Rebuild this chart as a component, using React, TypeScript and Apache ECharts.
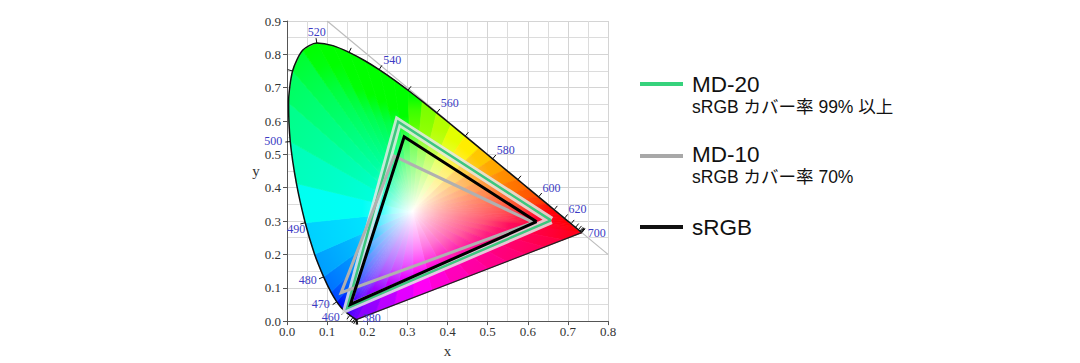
import React, { useEffect, useRef } from 'react';
import * as echarts from 'echarts';

// CIE 1931 spectral locus (wavelength in nm, chromaticity x, y)
const wavelengths = [380,385,390,395,400,405,410,415,420,425,430,435,440,445,450,455,460,465,470,475,480,485,490,495,500,505,510,515,520,525,530,535,540,545,550,555,560,565,570,575,580,585,590,595,600,605,610,615,620,625,630,635,640,645,650,655,660,665,670,675,680,685,690,695,700];
const locusX = [0.1741,0.1740,0.1738,0.1736,0.1733,0.1730,0.1726,0.1721,0.1714,0.1703,0.1689,0.1669,0.1644,0.1611,0.1566,0.1510,0.1440,0.1355,0.1241,0.1096,0.0913,0.0687,0.0454,0.0235,0.0082,0.0039,0.0139,0.0389,0.0743,0.1142,0.1547,0.1929,0.2296,0.2658,0.3016,0.3373,0.3731,0.4087,0.4441,0.4788,0.5125,0.5448,0.5752,0.6029,0.6270,0.6482,0.6658,0.6801,0.6915,0.7006,0.7079,0.7140,0.7190,0.7230,0.7260,0.7283,0.7300,0.7311,0.7320,0.7327,0.7334,0.7340,0.7344,0.7346,0.7347];
const locusY = [0.0050,0.0050,0.0049,0.0049,0.0048,0.0048,0.0048,0.0048,0.0051,0.0058,0.0069,0.0086,0.0109,0.0138,0.0177,0.0227,0.0297,0.0399,0.0578,0.0868,0.1327,0.2007,0.2950,0.4127,0.5384,0.6548,0.7502,0.8120,0.8338,0.8262,0.8059,0.7816,0.7543,0.7243,0.6923,0.6589,0.6245,0.5896,0.5547,0.5202,0.4866,0.4544,0.4242,0.3965,0.3725,0.3514,0.3340,0.3197,0.3083,0.2993,0.2920,0.2859,0.2809,0.2770,0.2740,0.2717,0.2700,0.2689,0.2680,0.2673,0.2666,0.2660,0.2656,0.2654,0.2653];
const whitePoint = [0.3127, 0.329];

// Gamut triangles (R, G, B vertices)
const md20Triangle = [[0.658, 0.302], [0.277, 0.598], [0.150, 0.039]];
const md10Triangle = [[0.614, 0.296], [0.267, 0.495], [0.135, 0.085]];
const srgbTriangle = [[0.622, 0.298], [0.292, 0.553], [0.158, 0.050]];

// Reference diagonal x + y = 1
const diagonalLine = [[0.1, 0.9], [0.8, 0.2]];

// Wavelength labels
const labelWavelengths = [380, 460, 470, 480, 490, 500, 520, 540, 560, 580, 600, 620, 700];

// Axis ticks
const xTicks = [0, 0.8, 0.1];
const yTicks = [0, 0.9, 0.1];

// Legend texts
const legendTitles = ['MD-20', 'MD-10', 'sRGB'];
const legendSubtitles = ['sRGB カバー率 99% 以上', 'sRGB カバー率 70%', ''];

// ---- styling (not data) ----
const labelOffsets: Record<number, [number, number]> = {
  380: [15, -1], 460: [-14, 6], 470: [-16, 2], 480: [-16, 3], 490: [-9, 6], 500: [-17, -1],
  520: [0, -11], 540: [13, -10], 560: [13, -10], 580: [13, -9], 600: [13, -9], 620: [13, -9], 700: [15, 0],
};
const legendColors = ['#36d27c', '#a8a8a8', '#111111'];
const legendLineY = [84, 156, 227];
const legendTitleY = [84.5, 154.5, 227];
const legendSubY = [107, 177, 0];

function gammaC(c: number) {
  return c <= 0.0031308 ? 12.92 * c : 1.055 * Math.pow(c, 1 / 2.4) - 0.055;
}
function xyColor(x: number, y: number) {
  const X = x / y, Z = (1 - x - y) / y;
  let r = 3.2406 * X - 1.5372 - 0.4986 * Z;
  let g = -0.9689 * X + 1.8758 + 0.0415 * Z;
  let b = 0.0557 * X - 0.2040 + 1.0570 * Z;
  r = Math.max(0, r); g = Math.max(0, g); b = Math.max(0, b);
  const m = Math.max(r, g, b) || 1;
  const f = (c: number) => Math.round(255 * Math.min(1, gammaC(c / m)));
  return `rgb(${f(r)},${f(g)},${f(b)})`;
}

function buildFanEdges() {
  const edges: number[][] = [];
  for (let i = 0; i < locusX.length - 1; i++) {
    edges.push([locusX[i], locusY[i], locusX[i + 1], locusY[i + 1]]);
  }
  // shading subdivision of the line of purples (rendering only)
  const n = locusX.length - 1;
  const N = 12;
  for (let k = 0; k < N; k++) {
    const a = k / N, b2 = (k + 1) / N;
    edges.push([
      locusX[n] + (locusX[0] - locusX[n]) * a, locusY[n] + (locusY[0] - locusY[n]) * a,
      locusX[n] + (locusX[0] - locusX[n]) * b2, locusY[n] + (locusY[0] - locusY[n]) * b2,
    ]);
  }
  return edges;
}

function closed(tri: number[][]) {
  return [...tri, tri[0]];
}

export default function App() {
  const ref = useRef<HTMLDivElement>(null);
  useEffect(() => {
    if (!ref.current) return;
    const chart = echarts.init(ref.current, null, { renderer: 'svg' });
    const serif = 'Liberation Serif, Times New Roman, serif';
    const sans = '"Liberation Sans", "Noto Sans CJK JP", sans-serif';

    const locusLine = locusX.map((x, i) => [x, locusY[i]]);
    const n = locusX.length - 1;
    const purpleLine = [[locusX[n], locusY[n]], [locusX[0], locusY[0]]];

    const tickData = wavelengths
      .map((w, i) => [locusX[i], locusY[i], i, w])
      .filter((d) => d[3] % 10 === 0);
    const labelData = labelWavelengths.map((w) => {
      const i = wavelengths.indexOf(w);
      return [locusX[i], locusY[i], w];
    });

    const graphics: any[] = [];
    legendTitles.forEach((t, k) => {
      graphics.push({
        type: 'line', shape: { x1: 640, y1: legendLineY[k], x2: 683, y2: legendLineY[k] },
        style: { stroke: legendColors[k], lineWidth: 4 },
      });
      graphics.push({
        type: 'text', x: 692, y: legendTitleY[k],
        style: { text: t, font: `22.5px ${sans}`, fill: '#111', verticalAlign: 'middle', align: 'left' },
      });
      if (legendSubtitles[k]) {
        graphics.push({
          type: 'text', x: 692, y: legendSubY[k],
          style: { text: legendSubtitles[k], font: `17.5px ${sans}`, fill: '#111', verticalAlign: 'middle', align: 'left' },
        });
      }
    });

    const axisCommon = {
      type: 'value' as const,
      axisLine: { show: true, lineStyle: { color: '#555', width: 1 } },
      axisTick: { show: true, length: 4, lineStyle: { color: '#555' } },
      splitLine: { show: true, lineStyle: { color: '#d4d4d4', width: 1 } },
      minorTick: { show: false, splitNumber: 2 },
      minorSplitLine: { show: true, lineStyle: { color: '#dcdcdc', width: 1 } },
      nameTextStyle: { fontFamily: serif, fontSize: 15, color: '#333' },
    };

    chart.setOption({
      animation: false,
      backgroundColor: '#fff',
      grid: { left: 287, right: 472, top: 21, bottom: 37, containLabel: false },
      xAxis: {
        ...axisCommon,
        min: xTicks[0], max: xTicks[1], interval: xTicks[2],
        name: 'x', nameLocation: 'middle', nameGap: 13,
        axisLabel: { fontFamily: serif, fontSize: 13, color: '#333', margin: 4, formatter: (v: number) => v.toFixed(1) },
      },
      yAxis: {
        ...axisCommon,
        min: yTicks[0], max: yTicks[1], interval: yTicks[2],
        name: 'y', nameLocation: 'middle', nameGap: 19, nameRotate: 0,
        axisLabel: { fontFamily: serif, fontSize: 13, color: '#333', margin: 6, formatter: (v: number) => v.toFixed(1) },
      },
      graphic: graphics,
      series: [
        {
          type: 'custom',
          silent: true,
          data: buildFanEdges(),
          encode: { x: [0, 2], y: [1, 3] },
          renderItem: (params: any, api: any) => {
            const x1 = api.value(0), y1 = api.value(1), x2 = api.value(2), y2 = api.value(3);
            const p1 = api.coord([x1, y1]);
            const p2 = api.coord([x2, y2]);
            const w = api.coord(whitePoint);
            const mx = (x1 + x2) / 2, my = (y1 + y2) / 2;
            const m = api.coord([mx, my]);
            const stops = [0, 0.08, 0.18, 0.3, 0.45, 0.6, 0.75, 0.88, 1].map((t) => ({
              offset: t,
              color: xyColor(whitePoint[0] + t * (mx - whitePoint[0]), whitePoint[1] + t * (my - whitePoint[1])),
            }));
            const grad = new echarts.graphic.LinearGradient(w[0], w[1], m[0], m[1], stops, true);
            return {
              type: 'polygon',
              shape: { points: [w, p1, p2] },
              style: { fill: grad, stroke: grad, lineWidth: 0.8 },
            };
          },
          z: 1,
        },
        {
          type: 'line',
          data: diagonalLine,
          showSymbol: false,
          silent: true,
          lineStyle: { color: '#bdbdbd', width: 1.2 },
          z: 2,
        },
        {
          type: 'line',
          data: locusLine,
          showSymbol: false,
          smooth: 0.25,
          silent: true,
          lineStyle: { color: '#111', width: 1.5 },
          z: 3,
        },
        {
          type: 'line',
          data: purpleLine,
          showSymbol: false,
          silent: true,
          lineStyle: { color: '#222', width: 1.2 },
          z: 3,
        },
        {
          type: 'custom',
          silent: true,
          data: tickData,
          encode: { x: 0, y: 1 },
          renderItem: (params: any, api: any) => {
            const i = api.value(2);
            const a = Math.max(0, i - 1), b = Math.min(locusX.length - 1, i + 1);
            const p = api.coord([locusX[i], locusY[i]]);
            const pa = api.coord([locusX[a], locusY[a]]);
            const pb = api.coord([locusX[b], locusY[b]]);
            const w = api.coord(whitePoint);
            let tx = pb[0] - pa[0], ty = pb[1] - pa[1];
            const len = Math.hypot(tx, ty) || 1;
            tx /= len; ty /= len;
            let nx = -ty, ny = tx;
            if (nx * (p[0] - w[0]) + ny * (p[1] - w[1]) < 0) { nx = -nx; ny = -ny; }
            return {
              type: 'line',
              shape: { x1: p[0], y1: p[1], x2: p[0] + nx * 5, y2: p[1] + ny * 5 },
              style: { stroke: '#111', lineWidth: 1 },
            };
          },
          z: 4,
        },
        {
          type: 'custom',
          silent: true,
          data: labelData,
          encode: { x: 0, y: 1 },
          clip: false,
          renderItem: (params: any, api: any) => {
            const p = api.coord([api.value(0), api.value(1)]);
            const wl = api.value(2);
            const off = labelOffsets[wl] || [0, 0];
            return {
              type: 'text',
              x: p[0] + off[0], y: p[1] + off[1],
              style: {
                text: String(wl), font: `12px ${serif}`, fill: '#3c3cc4',
                align: 'center', verticalAlign: 'middle',
              },
            };
          },
          z: 10,
        },
        {
          type: 'line',
          data: closed(md20Triangle),
          showSymbol: false,
          silent: true,
          lineStyle: { color: 'rgba(228,232,230,0.85)', width: 8, join: 'miter' },
          z: 5,
        },
        {
          type: 'line',
          data: closed(md20Triangle),
          showSymbol: false,
          silent: true,
          lineStyle: { color: '#3cc77e', width: 2.5, join: 'miter' },
          z: 6,
        },
        {
          type: 'line',
          data: closed(md10Triangle),
          showSymbol: false,
          silent: true,
          lineStyle: { color: '#b0b0b0', width: 3, join: 'miter' },
          z: 7,
        },
        {
          type: 'line',
          data: closed(srgbTriangle),
          showSymbol: false,
          silent: true,
          lineStyle: { color: '#000', width: 3, join: 'miter' },
          z: 8,
        },
      ],
    });
    return () => chart.dispose();
  }, []);

  return (
    <div
      ref={ref}
      style={{ position: 'fixed', left: 0, top: 0, width: 1080, height: 363, background: '#fff' }}
    />
  );
}
